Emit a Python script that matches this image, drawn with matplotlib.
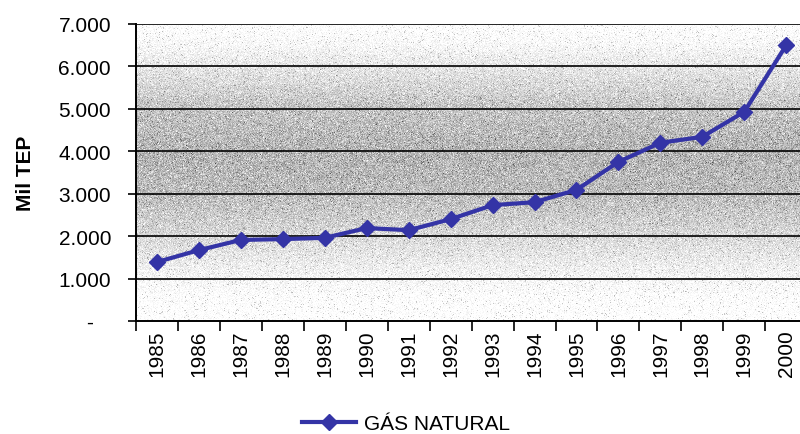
import matplotlib
matplotlib.use('Agg')
import matplotlib.pyplot as plt
from matplotlib.ticker import FuncFormatter
import numpy as np

plt.rcParams['font.family'] = ['Liberation Sans', 'DejaVu Sans']

# Consumo de gás natural (mil TEP)
years = [1985, 1986, 1987, 1988, 1989, 1990, 1991, 1992,
         1993, 1994, 1995, 1996, 1997, 1998, 1999, 2000]
gas_natural = [1390, 1670, 1910, 1930, 1960, 2190, 2140, 2400,
               2730, 2800, 3090, 3750, 4200, 4340, 4930, 6500]
y_ticks = [0, 1000, 2000, 3000, 4000, 5000, 6000, 7000]

FONT_SIZE = 15
LINE_COLOR = '#3434a6'


def thousands(v, pos):
    if v == 0:
        return '-   '
    return f'{int(v):,}'.replace(',', '.')


fig = plt.figure(figsize=(8, 4.35), dpi=100)
ax = fig.add_axes([0.17, 0.2598, 0.839, 0.6828])

x = np.arange(len(years))
ax.set_xlim(-0.5, len(years) - 0.5)
ax.set_ylim(0, 7000)

# grainy grey band behind the plot area, darkest in the middle
rng = np.random.default_rng(7)
rows, cols = 300, 680
levels = np.linspace(7000, 0, rows)
shade = np.interp(levels,
                  [0, 600, 1200, 2000, 3000, 4000, 5000, 5800, 6500, 7000],
                  [1.0, 0.99, 0.94, 0.85, 0.74, 0.71, 0.77, 0.88, 0.97, 1.0])
bg = np.repeat(shade[:, None], cols, axis=1)
grain = 0.03 + 0.22 * (1 - bg)
bg = bg + rng.normal(0, 1, bg.shape) * grain
# sparse dark specks in the light bands
specks = rng.random(bg.shape) < 0.04
bg[specks] -= 0.2
bg = np.clip(bg, 0, 1)
ax.imshow(bg, cmap='gray', vmin=0, vmax=1, aspect='auto',
          extent=(-0.5, len(years) - 0.5, 0, 7000),
          interpolation='nearest', zorder=0)

# horizontal gridlines
for t in y_ticks[1:]:
    ax.axhline(t, color='black', lw=1.2, zorder=1)

ax.plot(x, gas_natural, color=LINE_COLOR, lw=3, marker='D', ms=8.5,
        mec=LINE_COLOR, mfc=LINE_COLOR, zorder=3, label='GÁS NATURAL')

ax.set_yticks(y_ticks)
ax.yaxis.set_major_formatter(FuncFormatter(thousands))
ax.set_xticks(x)
ax.set_xticklabels([str(y) for y in years], rotation=90)
ax.set_xticks(np.arange(len(years) + 1) - 0.5, minor=True)
ax.tick_params(axis='x', which='major', length=0, pad=6, labelsize=FONT_SIZE)
ax.tick_params(axis='x', which='minor', length=7, width=1.2, direction='out')
ax.tick_params(axis='y', length=6, width=1.2, direction='out', pad=12,
               labelsize=FONT_SIZE)

for side in ['top', 'right']:
    ax.spines[side].set_visible(False)
for side in ['left', 'bottom']:
    ax.spines[side].set_linewidth(1.4)
    ax.spines[side].set_zorder(4)

ax.set_ylabel('Mil TEP', fontsize=FONT_SIZE, fontweight='bold')
ax.yaxis.set_label_coords(-0.15, 0.5)

fig.legend(loc='center', bbox_to_anchor=(406 / 800, 1 - 425 / 435),
           frameon=False, fontsize=FONT_SIZE, handlelength=2.6,
           handletextpad=0.4, borderaxespad=0, borderpad=0)

fig.savefig('out.png', dpi=100)
